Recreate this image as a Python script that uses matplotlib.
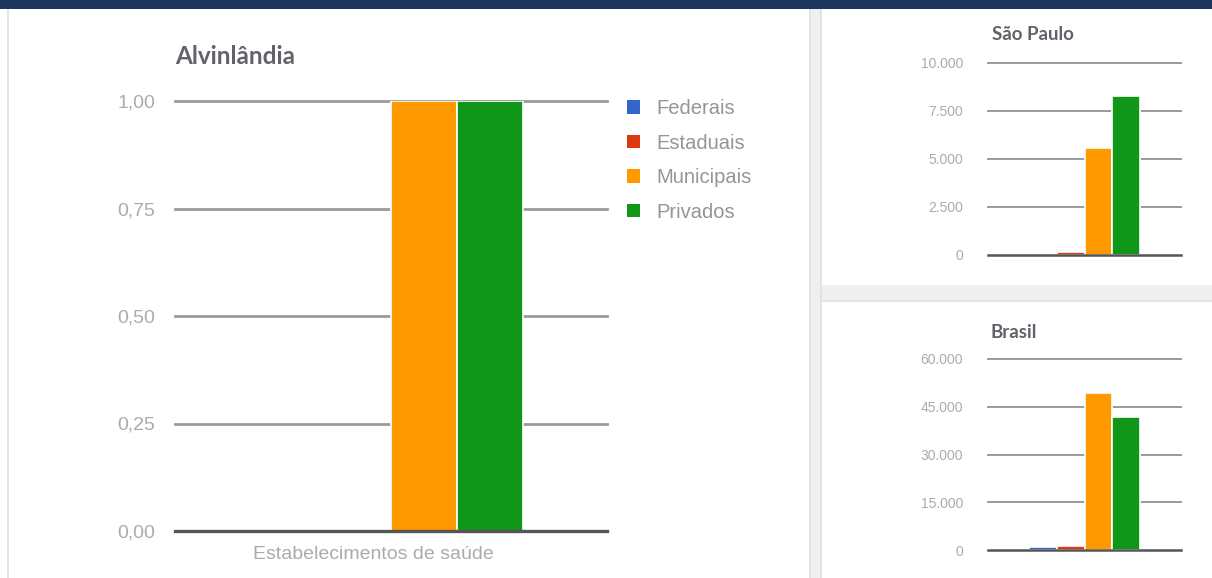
import matplotlib.pyplot as plt
from matplotlib.patches import Rectangle, Patch
from matplotlib.transforms import ScaledTranslation
import numpy as np

# --- dados ---
series = ['Federais', 'Estaduais', 'Municipais', 'Privados']
colors = ['#3366cc', '#dc3912', '#ff9900', '#109618']
category = 'Estabelecimentos de saúde'

alvinlandia = [0, 0, 1, 1]
sao_paulo = [30, 140, 5570, 8280]
brasil = [900, 1100, 49300, 41800]

alv_ticks = [0, 0.25, 0.5, 0.75, 1.0]
alv_ticklabels = ['0,00', '0,25', '0,50', '0,75', '1,00']
sp_ticks = [0, 2500, 5000, 7500, 10000]
sp_ticklabels = ['0', '2.500', '5.000', '7.500', '10.000']
br_ticks = [0, 15000, 30000, 45000, 60000]
br_ticklabels = ['0', '15.000', '30.000', '45.000', '60.000']

W, H = 1212, 578
DPI = 100
plt.rcParams['font.family'] = ['Liberation Sans', 'DejaVu Sans']

fig = plt.figure(figsize=(W / DPI, H / DPI), dpi=DPI)
fig.patch.set_facecolor('white')


def px_rect(x0, y0, x1, y1):
    # caixa em pixels (origem no canto superior esquerdo) -> coordenadas da figura
    return [x0 / W, 1 - y1 / H, (x1 - x0) / W, (y1 - y0) / H]


def add_box(x0, y0, x1, y1, color):
    fig.patches.append(Rectangle((x0 / W, 1 - y1 / H), (x1 - x0) / W, (y1 - y0) / H,
                                 transform=fig.transFigure, facecolor=color,
                                 edgecolor='none', zorder=0))


# fundo da página: faixa superior e separadores entre os painéis
add_box(0, 0, W, 9, '#1b365f')
add_box(7, 9, 9, H, '#e4e4e4')
add_box(809, 9, 822, H, '#efefef')
add_box(809, 9, 811, H, '#e2e2e2')
add_box(820, 9, 822, H, '#e2e2e2')
add_box(822, 285, W, 302, '#efefef')
add_box(822, 300, W, 302, '#e2e2e2')


def bar_panel(rect, values, ticks, ticklabels, group_width, grid_lw, base_lw,
              tick_size, tick_pad):
    ax = fig.add_axes(rect)
    n = len(values)
    w = group_width / n
    offsets = (np.arange(n) - (n - 1) / 2) * w
    for off, v, c, s in zip(offsets, values, colors, series):
        ax.bar(off, v, w, color=c, edgecolor='white', linewidth=1.2,
               label=s, zorder=3)
    ax.set_xlim(-0.5, 0.5)
    ax.set_ylim(ticks[0], ticks[-1])
    for t in ticks[1:]:
        ax.axhline(t, color='#9a9a9a', linewidth=grid_lw, zorder=1, clip_on=False)
    ax.axhline(ticks[0], color='#555555', linewidth=base_lw, zorder=4, clip_on=False)
    ax.set_yticks(ticks)
    ax.set_yticklabels(ticklabels, fontsize=tick_size, color='#ababab')
    ax.tick_params(axis='y', length=0, pad=tick_pad)
    ax.tick_params(axis='x', length=0)
    ax.set_xticks([])
    for sp in ax.spines.values():
        sp.set_visible(False)
    ax.patch.set_alpha(0)
    return ax


# painel principal
ax = bar_panel(px_rect(175, 101, 607, 531), alvinlandia, alv_ticks,
               alv_ticklabels, 0.61, 2.0, 2.4, 14, 14)
ax.set_xticks([0])
ax.set_xticklabels([category], fontsize=14, color='#ababab')
ax.tick_params(axis='x', pad=11)
for lbl in ax.get_xticklabels():
    lbl.set_transform(lbl.get_transform() + ScaledTranslation(-0.18, 0, fig.dpi_scale_trans))
fig.text(175 / W, 1 - 56 / H, 'Alvinlândia', fontsize=17.5, fontweight='bold',
         family=['Lato', 'DejaVu Sans'], color='#60636a', va='center', ha='left')
handles = [Patch(facecolor=c, edgecolor='none') for c in colors]
ax.legend(handles=handles, labels=series, loc='upper left',
          bbox_to_anchor=(627 / W, 1 - 99 / H), bbox_transform=fig.transFigure,
          frameon=False, fontsize=14.5, labelcolor='#959595',
          handlelength=0.65, handleheight=0.65, handletextpad=0.8,
          labelspacing=0.77, borderaxespad=0, borderpad=0)

# painel São Paulo
bar_panel(px_rect(988, 63, 1181, 255), sao_paulo, sp_ticks,
          sp_ticklabels, 0.57, 1.4, 1.8, 10, 18)
fig.text(1033 / W, 1 - 35 / H, 'São Paulo', fontsize=13.5, fontweight='bold',
         family=['Lato', 'DejaVu Sans'], color='#60636a', va='center', ha='center')

# painel Brasil
bar_panel(px_rect(988, 359, 1181, 550), brasil, br_ticks,
          br_ticklabels, 0.57, 1.4, 1.8, 10, 18)
fig.text(1014 / W, 1 - 332 / H, 'Brasil', fontsize=13.5, fontweight='bold',
         family=['Lato', 'DejaVu Sans'], color='#60636a', va='center', ha='center')

fig.savefig('out.png', dpi=DPI)
